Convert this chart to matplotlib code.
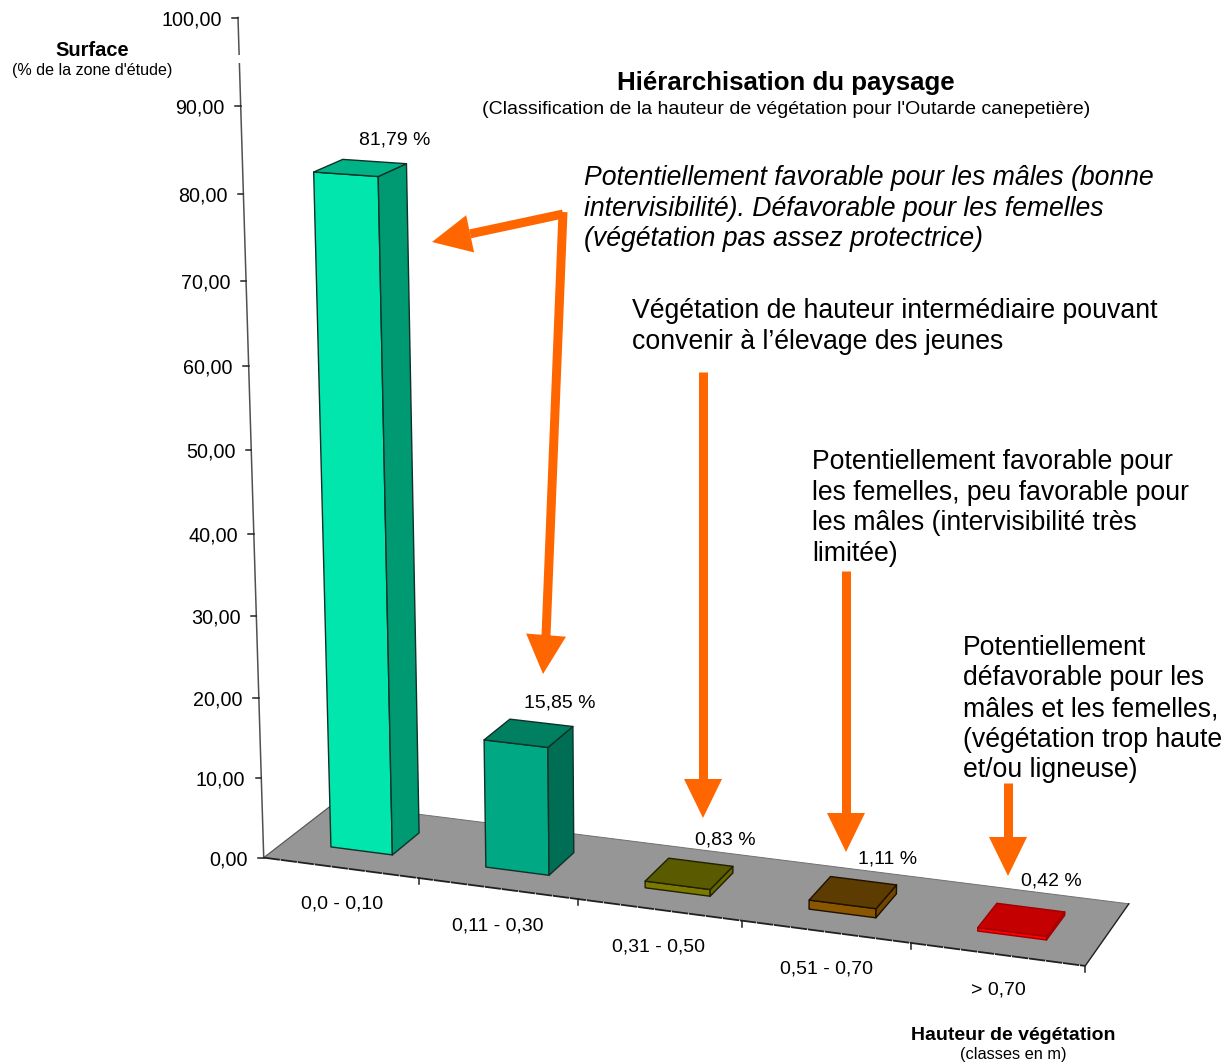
import numpy as np
import matplotlib
matplotlib.use('Agg')
import matplotlib.pyplot as plt
from matplotlib.patches import Polygon, Rectangle

plt.rcParams['font.family'] = ['Liberation Sans', 'DejaVu Sans']

classes = ['0,0 - 0,10', '0,11 - 0,30', '0,31 - 0,50', '0,51 - 0,70', '> 0,70']
surface = [81.79, 15.85, 0.83, 1.11, 0.42]
y_ticks = [0, 10, 20, 30, 40, 50, 60, 70, 80, 90, 100]

front_colors = ['#00E6AC', '#00A884', '#7A7A00', '#8A5600', '#FF0000']
top_colors = ['#00B386', '#008060', '#5A5A00', '#5C3C00', '#C40000']
side_colors = ['#009A72', '#006E54', '#666600', '#704600', '#D80000']
edge_colors = ['#103028', '#103028', '#202000', '#201000', '#A00000']

ORANGE = '#FF6600'

# camera of the 3D chart: (category, value, depth) -> pixel
camera_points = [
    (0, 0, 0, 265, 858), (0, 100, 0, 237, 17), (0, 50, 0, 250, 450),
    (1, 0, 0, 419, 879), (2, 0, 0, 578, 900), (3, 0, 0, 742, 921),
    (4, 0, 0, 911, 944), (5, 0, 0, 1085, 967),
    (0, 0, 1, 330, 807), (5, 0, 1, 1129, 903),
    (0.3, 0, 0.3, 332, 846), (0.7, 0, 0.3, 393, 854), (0.7, 0, 0.7, 421, 832),
    (0.3, 81.79, 0.3, 314, 172), (0.7, 81.79, 0.3, 378, 177),
    (0.7, 81.79, 0.7, 407, 164), (0.3, 81.79, 0.7, 344, 160),
    (1.3, 15.85, 0.3, 484, 739), (1.7, 15.85, 0.3, 548, 747),
    (1.7, 15.85, 0.7, 573, 726), (1.3, 15.85, 0.7, 510, 719),
    (1.3, 0, 0.3, 486, 866), (1.7, 0, 0.3, 549, 874),
    (4.3, 0.42, 0.3, 977, 928), (4.7, 0.42, 0.3, 1047, 937),
    (4.7, 0.42, 0.7, 1065, 912), (4.3, 0.42, 0.7, 997, 903),
    (3.3, 1.11, 0.3, 808, 900), (3.7, 1.11, 0.3, 876, 909),
    (3.7, 1.11, 0.7, 897, 884), (3.3, 1.11, 0.7, 831, 876),
]


def fit_camera(points):
    rows = []
    for x, y, d, u, v in points:
        X = [x / 5, y / 100, d, 1]
        u, v = u / 1000, v / 1000
        rows.append(X + [0, 0, 0, 0] + [-u * c for c in X])
        rows.append([0, 0, 0, 0] + X + [-v * c for c in X])
    return np.linalg.svd(np.array(rows))[2][-1].reshape(3, 4)


P = fit_camera(camera_points)


def proj(x, y, d=0):
    p = P @ np.array([x / 5, y / 100, d, 1])
    return p[0] / p[2] * 1000, p[1] / p[2] * 1000


def face(ax, corners, color, edge, lw=1.0, zorder=1):
    ax.add_patch(Polygon([proj(*c) for c in corners], closed=True, zorder=zorder,
                         facecolor=color, edgecolor=edge, linewidth=lw, joinstyle='round'))


def arrow(ax, points, half=19, length=39, width=9):
    # polyline shaft ending in a triangular head
    pts = np.array(points, dtype=float)
    tip = pts[-1]
    dirn = tip - pts[-2]
    dirn /= np.hypot(*dirn)
    normal = np.array([-dirn[1], dirn[0]])
    base = tip - dirn * length
    ax.plot(list(pts[:-1, 0]) + [base[0]], list(pts[:-1, 1]) + [base[1]], color=ORANGE,
            lw=width * 0.72, solid_joinstyle='miter', solid_capstyle='butt', zorder=5)
    ax.add_patch(Polygon([tip, base + normal * half, base - normal * half], closed=True,
                         facecolor=ORANGE, edgecolor='none', zorder=5))


fig = plt.figure(figsize=(12.32, 10.64), dpi=100)
ax = fig.add_axes([0, 0, 1, 1])
ax.set_xlim(0, 1232)
ax.set_ylim(1064, 0)
ax.axis('off')

# floor
face(ax, [(0, 0, 0), (5, 0, 0), (5, 0, 1), (0, 0, 1)], '#969696', 'none')
ax.plot(*zip(proj(0, 0, 1), proj(5, 0, 1)), color='#707070', lw=0.7)
ax.plot(*zip(proj(0, 0, 0), proj(0, 0, 1)), color='#505050', lw=0.8)
ax.plot(*zip(proj(5, 0, 0), proj(5, 0, 1)), color='#202020', lw=1.0)
ax.plot(*zip(proj(0, 0, 0), proj(5, 0, 0)), color='#202020', lw=1.3, ls=(0, (9, 0.5)))

# value axis
ax.plot(*zip(proj(0, 0), proj(0, 100)), color='#505050', lw=1.1)
ax.add_patch(Rectangle((225, 55), 25, 8, facecolor='white', edgecolor='none', zorder=2))
for v in y_ticks:
    px, py = proj(0, v)
    ax.plot([px - 5.5, px], [py, py], color='#202020', lw=1.1)
    ax.text(px - 16, py + 2, f'{v:.2f}'.replace('.', ','), ha='right', va='center', fontsize=14.2)

# category axis
for i in range(1, 6):
    px, py = proj(i, 0)
    ax.plot([px, px], [py, py + 6], color='#202020', lw=1.1)

label_xy = [(342, 904), (498, 926), (659, 947), (826, 969), (998, 990)]
for name, (lx, ly) in zip(classes, label_xy):
    ax.text(lx, ly, name, ha='center', va='center', fontsize=14)

# bars
for i, v in enumerate(surface):
    x0, x1 = i + 0.3, i + 0.7
    d0, d1 = 0.3, 0.7
    e = edge_colors[i]
    face(ax, [(x0, 0, d0), (x1, 0, d0), (x1, v, d0), (x0, v, d0)], front_colors[i], e, zorder=3)
    face(ax, [(x1, 0, d0), (x1, 0, d1), (x1, v, d1), (x1, v, d0)], side_colors[i], e, zorder=3)
    face(ax, [(x0, v, d0), (x1, v, d0), (x1, v, d1), (x0, v, d1)], top_colors[i], e, zorder=3)

value_xy = [(395, 140), (560, 703), (725, 840), (888, 859), (1051, 881)]
for v, (lx, ly) in zip(surface, value_xy):
    ax.text(lx, ly, f'{v:.2f} %'.replace('.', ','), ha='center', va='center', fontsize=14)

# arrows
arrow(ax, [(563, 214), (432, 242)])
arrow(ax, [(563, 212), (546, 636), (543, 674)], half=20)
arrow(ax, [(703, 372), (703, 818)])
arrow(ax, [(846, 571), (846, 852)])
arrow(ax, [(1008, 783), (1008, 876)])

# titles
ax.text(786, 83, 'Hiérarchisation du paysage', ha='center', va='center', fontsize=18.65, fontweight='bold')
ax.text(786, 109, "(Classification de la hauteur de végétation pour l'Outarde canepetière)",
        ha='center', va='center', fontsize=14)
ax.text(92, 50, 'Surface', ha='center', va='center', fontsize=14.4, fontweight='bold')
ax.text(92, 70, "(% de la zone d'étude)", ha='center', va='center', fontsize=11.65)
ax.text(1013, 1035, 'Hauteur de végétation', ha='center', va='center', fontsize=14, fontweight='bold')
ax.text(1013, 1055, '(classes en m)', ha='center', va='center', fontsize=11.8)

# comments next to the arrows
notes = [
    (584, [178, 209, 239], 'italic',
     ['Potentiellement favorable pour les mâles (bonne',
      'intervisibilité). Défavorable pour les femelles',
      '(végétation pas assez protectrice)']),
    (632, [311, 342], 'normal',
     ['Végétation de hauteur intermédiaire pouvant',
      'convenir à l’élevage des jeunes']),
    (812, [462, 493, 523, 554], 'normal',
     ['Potentiellement favorable pour',
      'les femelles, peu favorable pour',
      'les mâles (intervisibilité très',
      'limitée)']),
    (963, [648, 678, 709, 740, 770], 'normal',
     ['Potentiellement',
      'défavorable pour les',
      'mâles et les femelles,',
      '(végétation trop haute',
      'et/ou ligneuse)']),
]
for nx, ys, style, lines in notes:
    for ny, line in zip(ys, lines):
        ax.text(nx, ny, line, ha='left', va='center', fontsize=19.2, fontstyle=style)

fig.savefig('out.png', dpi=100, facecolor='white')
